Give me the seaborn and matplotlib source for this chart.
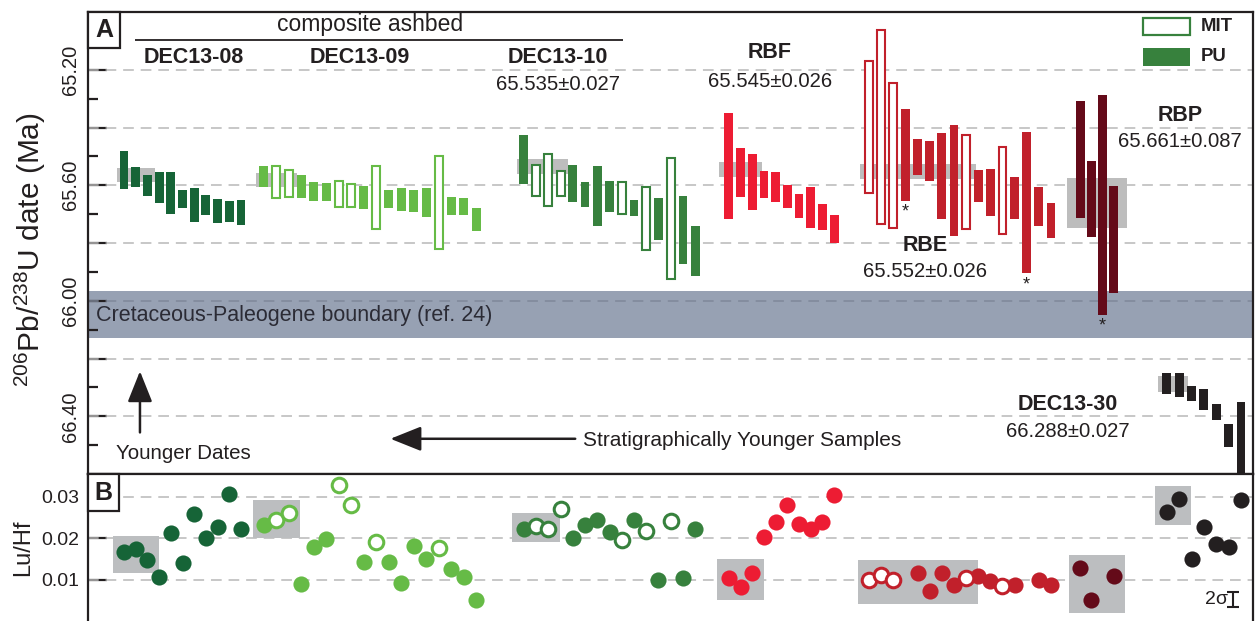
import numpy as np
import matplotlib
matplotlib.use("Agg")
import matplotlib.pyplot as plt
from matplotlib.patches import Rectangle
from matplotlib.ticker import FixedLocator, FuncFormatter
import pandas as pd
import seaborn as sns

# ---------------- data ----------------
samples = ["DEC13-08", "DEC13-09", "DEC13-10", "RBF", "RBE", "RBP", "DEC13-30"]
colors = ["#166437", "#66bb46", "#37813d", "#ed1c33", "#c1202b", "#640a19", "#231f20"]
nan = np.nan

dec08_date = [65.547, 65.571, 65.601, 65.608, 65.627, 65.647, 65.668, 65.668, 65.689, 65.691, 65.694]
dec08_err = [0.066, 0.035, 0.036, 0.054, 0.073, 0.031, 0.059, 0.035, 0.042, 0.036, 0.043]
dec08_mit = [0] * 11
dec08_luhf = [0.0167, 0.0173, 0.0147, 0.0106, 0.0213, 0.0139, 0.0259, 0.0201, 0.0226, 0.0306, 0.0222]

dec09_date = [65.569, 65.588, 65.594, 65.604, 65.621, 65.623, 65.630, 65.635, 65.642, 65.642,
              65.647, 65.649, 65.654, 65.660, 65.660, 65.672, 65.673, 65.719]
dec09_err = [0.036, 0.055, 0.047, 0.040, 0.033, 0.031, 0.045, 0.040, 0.040, 0.109,
             0.031, 0.040, 0.038, 0.050, 0.161, 0.031, 0.029, 0.040]
dec09_mit = [0, 1, 1, 0, 0, 0, 1, 1, 0, 1, 0, 0, 0, 0, 1, 0, 0, 0]
dec09_luhf = [0.0233, 0.0244, 0.0261, 0.0089, 0.0179, 0.0197, 0.0328, 0.0280, 0.0142, 0.0191,
              0.0143, 0.0091, 0.0180, 0.0149, 0.0177, 0.0126, 0.0107, 0.0051]

dec10_date = [65.510, 65.583, 65.582, 65.594, 65.594, 65.632, 65.637, 65.639, 65.644, 65.679,
              65.715, 65.717, 65.715, 65.755, 65.828]
dec10_err = [0.085, 0.054, 0.090, 0.043, 0.064, 0.043, 0.104, 0.054, 0.055, 0.028,
             0.109, 0.073, 0.210, 0.118, 0.087]
dec10_mit = [0, 1, 1, 1, 0, 0, 0, 0, 1, 0, 1, 0, 1, 0, 0]
dec10_luhf = [0.0222, 0.0229, 0.0223, 0.0271, 0.0200, 0.0231, 0.0243, 0.0214, 0.0196, 0.0243,
              0.0217, 0.0099, 0.0241, 0.0104, 0.0223]

rbf_date = [65.533, 65.556, 65.588, 65.597, 65.606, 65.639, 65.672, 65.677, 65.710, 65.751]
rbf_err = [0.184, 0.085, 0.097, 0.047, 0.052, 0.040, 0.042, 0.071, 0.045, 0.049]
rbf_mit = [0] * 10
rbf_luhf = [0.0103, 0.0082, 0.0117, 0.0202, 0.0240, 0.0281, 0.0235, 0.0222, 0.0240, 0.0305]

rbe_date = [65.398, 65.399, 65.497, 65.495, 65.502, 65.516, 65.568, 65.583, 65.588, 65.602,
            65.625, 65.618, 65.644, 65.660, 65.673, 65.722]
rbe_err = [0.229, 0.335, 0.251, 0.160, 0.062, 0.069, 0.149, 0.192, 0.163, 0.055,
           0.082, 0.151, 0.073, 0.245, 0.068, 0.061]
rbe_mit = [1, 1, 1, 0, 0, 0, 0, 0, 1, 0, 0, 1, 0, 0, 0, 0]
rbe_luhf = [0.0098, 0.0110, 0.0098, nan, 0.0115, 0.0072, 0.0116, 0.0088, 0.0103, 0.0108,
            0.0096, 0.0084, 0.0086, nan, 0.0098, 0.0086]

rbp_date = [65.510, 65.647, 65.668, 65.788]
rbp_err = [0.203, 0.132, 0.382, 0.186]
rbp_mit = [0, 0, 0, 0]
rbp_luhf = [0.0127, 0.0051, nan, 0.0108]

dec30_date = [66.287, 66.293, 66.322, 66.343, 66.386, 66.468, 66.555]
dec30_err = [0.036, 0.042, 0.026, 0.036, 0.028, 0.040, 0.205]
dec30_mit = [0] * 7
dec30_luhf = [0.0264, 0.0295, 0.0150, 0.0226, 0.0185, 0.0178, 0.0292]

# weighted means (Ma, 2 sigma) and number of grains used
wm_date = [65.564, 65.582, 65.535, 65.545, 65.552, 65.661, 66.288]
wm_err = [0.024, 0.024, 0.027, 0.026, 0.026, 0.087, 0.027]
wm_n_date = [3, 3, 4, 3, 9, 4, 2]
wm_n_luhf = [3, 3, 3, 3, 9, 4, 2]
wm_label = [None, None, "65.535±0.027", "65.545±0.026", "65.552±0.026", "65.661±0.087", "66.288±0.027"]

# grains flagged with an asterisk (index within sample)
flagged = {"RBE": [3, 13], "RBP": [2]}

kpg_date = 66.048
kpg_err = 0.082

dates = [dec08_date, dec09_date, dec10_date, rbf_date, rbe_date, rbp_date, dec30_date]
errs = [dec08_err, dec09_err, dec10_err, rbf_err, rbe_err, rbp_err, dec30_err]
mits = [dec08_mit, dec09_mit, dec10_mit, rbf_mit, rbe_mit, rbp_mit, dec30_mit]
luhfs = [dec08_luhf, dec09_luhf, dec10_luhf, rbf_luhf, rbe_luhf, rbp_luhf, dec30_luhf]

# ---------------- layout (slot units along x) ----------------
group_center = [7.875, 23.5, 43.46, 57.79, 72.67, 84.08, 92.99]
group_step = [0.975, 1.04, 1.02, 0.975, 1.01, 0.94, 1.03]
band_pad = [0.6, 0.7, 0.6, 0.8, 0.8, 1.1, 0.7]
XMAX = 97.08

rows = []
for g, name in enumerate(samples):
    n = len(dates[g])
    for i in range(n):
        x = group_center[g] + (i - (n - 1) / 2) * group_step[g]
        rows.append(dict(sample=name, g=g, i=i, x=x, date=dates[g][i], err=errs[g][i],
                         mit=mits[g][i], luhf=luhfs[g][i]))
df = pd.DataFrame(rows)

# ---------------- style ----------------
sns.set_theme(style="white")
plt.rcParams["font.family"] = ["Liberation Sans", "DejaVu Sans"]
plt.rcParams["mathtext.fontset"] = "custom"
plt.rcParams["mathtext.rm"] = "Liberation Sans"
plt.rcParams["mathtext.it"] = "Liberation Sans:italic"
plt.rcParams["text.color"] = "#231f20"
TXT = "#231f20"
GRID = "#b8b8b8"
WMGRAY = "#bdbdbd"
BOXGRAY = "#bcbec0"
KPG = "#97a1b3"

W, H = 1255, 621
fig = plt.figure(figsize=(W / 100, H / 100), dpi=100)
axA = fig.add_axes([88 / W, 1 - 474 / H, 1165 / W, 462 / H])
axB = fig.add_axes([88 / W, 0, 1165 / W, 147 / H])

# ---------------- panel A ----------------
axA.set_xlim(0, XMAX)
axA.set_ylim(66.6, 65.0)
axA.axhspan(kpg_date - kpg_err, kpg_date + kpg_err, color=KPG, lw=0, zorder=0.5)
for yv in np.arange(65.2, 66.41, 0.2):
    c = "#7f889a" if abs(yv - 66.0) < 1e-6 else GRID
    axA.axhline(yv, color=c, lw=1.1, dashes=(7, 4.5), zorder=0.8)

for g, name in enumerate(samples):
    sub = df[df.g == g]
    c = colors[g]
    nd = wm_n_date[g]
    x0 = sub.x.iloc[0] - band_pad[g]
    x1 = sub.x.iloc[nd - 1] + band_pad[g]
    axA.bar((x0 + x1) / 2, 2 * wm_err[g], bottom=wm_date[g] - wm_err[g], width=x1 - x0,
            color=WMGRAY, lw=0, zorder=1)
    for _, r in sub.iterrows():
        if r.mit:
            axA.bar(r.x, 2 * r.err, bottom=r.date - r.err, width=0.66, facecolor="white",
                    edgecolor=c, linewidth=1.5, zorder=3)
        else:
            axA.bar(r.x, 2 * r.err, bottom=r.date - r.err, width=0.74, color=c, lw=0, zorder=3)
    for i in flagged.get(name, []):
        r = sub.iloc[i]
        axA.annotate("*", (r.x, r.date + r.err), xytext=(0, -2), textcoords="offset points",
                     ha="center", va="top", fontsize=13, color=TXT, zorder=5)

# y axis
major = np.round(np.arange(65.2, 66.41, 0.2), 2)
minor = np.round(np.arange(65.1, 66.51, 0.2), 2)
axA.yaxis.set_major_locator(FixedLocator(major))
axA.yaxis.set_minor_locator(FixedLocator(minor))
axA.yaxis.set_major_formatter(FuncFormatter(
    lambda v, p: f"{v:.2f}" if abs(round(v * 10) % 4) < 1e-9 else ""))
axA.tick_params(axis="y", which="major", direction="in", length=14, width=1.6, color=TXT,
                labelsize=14.5, labelcolor=TXT, pad=6, left=True)
axA.tick_params(axis="y", which="minor", direction="in", length=7, width=1.6, color=TXT, left=True)
for lab in axA.get_yticklabels():
    lab.set_rotation(90)
    lab.set_va("center")
axA.set_xticks([])
for s in axA.spines.values():
    s.set_visible(True)
    s.set_color(TXT)
    s.set_linewidth(1.6)
axA.set_ylabel(r"$^{206}$Pb/$^{238}$U date (Ma)", fontsize=21.5, color=TXT)
axA.yaxis.set_label_coords(-0.034, 0.485)

# labels
fs_b, fs_n = 15.5, 14.6
axA.text(23.5, 65.043, "composite ashbed", ha="center", va="center", fontsize=16.5, color=TXT)
axA.plot([3.92, 44.58], [65.096, 65.096], color=TXT, lw=1.3, solid_capstyle="butt", zorder=4)
axA.text(8.83, 65.158, "DEC13-08", ha="center", va="center", fontsize=fs_b, weight="bold")
axA.text(22.67, 65.158, "DEC13-09", ha="center", va="center", fontsize=fs_b, weight="bold")
lab_pos = {2: (39.17, 65.158, 65.252), 3: (56.83, 65.141, 65.241), 4: (69.75, 65.81, 65.90),
           5: (91.0, 65.359, 65.449), 6: (81.67, 66.358, 66.452)}
for g, (lx, ly1, ly2) in lab_pos.items():
    axA.text(lx, ly1, samples[g], ha="center", va="center", fontsize=fs_b, weight="bold", zorder=6)
    axA.text(lx, ly2, wm_label[g], ha="center", va="center", fontsize=fs_n, zorder=6)

axA.text(0.67, 66.05, "Cretaceous-Paleogene boundary (ref. 24)", ha="left", va="center",
         fontsize=15.5, color="#2b2b35", zorder=2)

arrow = dict(arrowstyle="-|>,head_width=0.38,head_length=0.95", lw=1.8, color=TXT,
             mutation_scale=20, shrinkA=0, shrinkB=0)
axA.annotate("", xy=(4.33, 66.244), xytext=(4.33, 66.456), arrowprops=arrow)
axA.text(7.92, 66.528, "Younger Dates", ha="center", va="center", fontsize=14.8)
axA.annotate("", xy=(25.2, 66.478), xytext=(40.6, 66.478), arrowprops=arrow)
axA.text(41.25, 66.483, "Stratigraphically Younger Samples", ha="left", va="center", fontsize=15)

# legend (MIT open / PU filled)
axA.add_patch(Rectangle((87.95, 65.0196), 3.85, 0.059, facecolor="white",
                        edgecolor="#37813d", lw=1.6, zorder=6))
axA.add_patch(Rectangle((87.95, 65.1237), 3.9, 0.0623, facecolor="#37813d", lw=0, zorder=6))
axA.text(92.7, 65.049, "MIT", ha="left", va="center", fontsize=13.4, weight="bold")
axA.text(92.7, 65.155, "PU", ha="left", va="center", fontsize=13.4, weight="bold")

# panel letter A
axA.add_patch(Rectangle((0, 1 - 36 / 462), 32 / 1165, 36 / 462, transform=axA.transAxes,
                        facecolor="white", edgecolor=TXT, lw=1.6, zorder=10, clip_on=False))
axA.text(16 / 1165, 1 - 18 / 462, "A", transform=axA.transAxes, ha="center", va="center",
         fontsize=18, weight="bold", zorder=11)

# ---------------- panel B ----------------
axB.set_xlim(0, XMAX)
axB.set_ylim(0, 0.0355)
for yv in [0.01, 0.02, 0.03]:
    axB.axhline(yv, color=GRID, lw=1.1, dashes=(7, 4.5), zorder=0.8)

for g, name in enumerate(samples):
    sub = df[df.g == g]
    c = colors[g]
    nb = wm_n_luhf[g]
    box = sub.iloc[:nb].dropna(subset=["luhf"])
    bx0 = sub.x.iloc[0] - 0.95
    bx1 = sub.x.iloc[nb - 1] + 0.95
    by0 = box.luhf.min() - 0.0032
    by1 = box.luhf.max() + 0.0032
    axB.add_patch(Rectangle((bx0, by0), bx1 - bx0, by1 - by0, facecolor=BOXGRAY, lw=0, zorder=1))
    filled = sub[(sub.mit == 0)].dropna(subset=["luhf"])
    opened = sub[(sub.mit == 1)].dropna(subset=["luhf"])
    if len(filled):
        sns.scatterplot(data=filled, x="x", y="luhf", color=c, s=135, linewidth=0,
                        ax=axB, zorder=4, legend=False)
    if len(opened):
        sns.scatterplot(data=opened, x="x", y="luhf", color="white", edgecolor=c, s=110,
                        linewidth=2.2, ax=axB, zorder=5, legend=False)

axB.set_xlabel("")
axB.set_xticks([])
axB.yaxis.set_major_locator(FixedLocator([0.01, 0.02, 0.03]))
axB.yaxis.set_major_formatter(FuncFormatter(lambda v, p: f"{v:.2f}"))
axB.tick_params(axis="y", direction="in", length=14, width=1.6, color=TXT, labelsize=14,
                labelcolor=TXT, pad=6, left=True)
for side in ["left", "top", "right"]:
    axB.spines[side].set_visible(True)
    axB.spines[side].set_color(TXT)
    axB.spines[side].set_linewidth(1.6)
axB.spines["bottom"].set_visible(False)
axB.set_ylabel("Lu/Hf", fontsize=17, color=TXT)
axB.yaxis.set_label_coords(-0.046, 0.5)

# 2 sigma scale bar
axB.errorbar([95.42], [0.00516], yerr=[0.0018], fmt="none", ecolor=TXT, elinewidth=1.5,
             capsize=4, capthick=1.5, zorder=6)
axB.text(95.0, 0.00516, "2σ", ha="right", va="center", fontsize=14)

# panel letter B
axB.add_patch(Rectangle((0, 1 - 37 / 147), 31 / 1165, 37 / 147, transform=axB.transAxes,
                        facecolor="white", edgecolor=TXT, lw=1.6, zorder=10, clip_on=False))
axB.text(15.5 / 1165, 1 - 18.5 / 147, "B", transform=axB.transAxes, ha="center", va="center",
         fontsize=18, weight="bold", zorder=11)

fig.savefig("out.png", dpi=100)
